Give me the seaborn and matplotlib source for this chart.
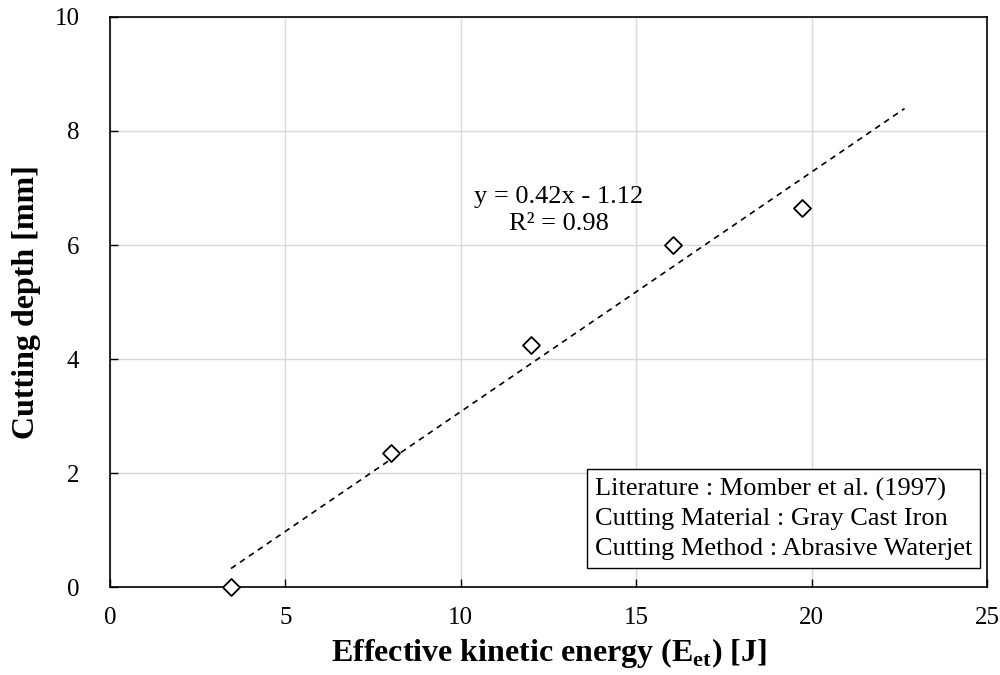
import numpy as np
import pandas as pd
import matplotlib
matplotlib.use("Agg")
import matplotlib.pyplot as plt
import seaborn as sns

energy = [3.45, 8.0, 12.0, 16.05, 19.72]
depth = [0.0, 2.35, 4.25, 6.0, 6.65]
trend_slope = 0.42
trend_intercept = -1.12
trend_r2 = 0.98
trend_x_end = 22.65
x_ticks = [0, 5, 10, 15, 20, 25]
y_ticks = [0, 2, 4, 6, 8, 10]
info_lines = ["Literature : Momber et al. (1997)",
              "Cutting Material : Gray Cast Iron",
              "Cutting Method : Abrasive Waterjet"]

sns.set_theme(style="whitegrid")
plt.rcParams['font.family'] = ['Liberation Serif', 'DejaVu Serif']
plt.rcParams['mathtext.fontset'] = 'custom'
plt.rcParams['mathtext.rm'] = 'Liberation Serif:bold'

df = pd.DataFrame({"x": energy, "y": depth})
tx = np.array([min(energy), trend_x_end])
trend = pd.DataFrame({"x": tx, "y": trend_slope * tx + trend_intercept})

fig = plt.figure(figsize=(10, 6.75), dpi=100)
ax = fig.add_axes([0.11, 0.13, 0.877, 0.845])

sns.lineplot(data=trend, x="x", y="y", ax=ax, color="black", linestyle=(0, (3.5, 3)),
             linewidth=1.2)
sns.scatterplot(data=df, x="x", y="y", ax=ax, marker="D", s=75, facecolor="white",
                edgecolor="black", linewidth=1.3, zorder=5, clip_on=False)

ax.set_xlim(0, 25)
ax.set_ylim(0, 10)
ax.set_xticks(x_ticks)
ax.set_yticks(y_ticks)
ax.grid(True, color="#d9d9d9", linewidth=1)
for s in ax.spines.values():
    s.set_color("black")
    s.set_linewidth(1.2)
ax.tick_params(axis="both", direction="in", length=6, width=1, color="black",
               labelsize=18, labelcolor="black")
ax.tick_params(axis="y", pad=22)
ax.tick_params(axis="x", pad=14)
ax.tick_params(left=True, bottom=True)

ax.set_xlabel(r"Effective kinetic energy (E$_{\mathregular{et}}$) [J]", fontsize=23,
              fontweight="bold", color="black", labelpad=5)
ax.set_ylabel("Cutting depth [mm]", fontsize=23, fontweight="bold", color="black",
              labelpad=10)

ax.text(12.8, 6.6, f"y = {trend_slope:.2f}x - {abs(trend_intercept):.2f}\nR² = {trend_r2:.2f}",
        ha="center", va="center", fontsize=19, color="black", linespacing=1.3)

ax.text(0.553, 0.048, "\n".join(info_lines), transform=ax.transAxes, ha="left",
        va="bottom", fontsize=19, color="black", linespacing=1.45,
        bbox=dict(boxstyle="square,pad=0.3", facecolor="white", edgecolor="black",
                  linewidth=1))

fig.savefig("out.png", dpi=100)
